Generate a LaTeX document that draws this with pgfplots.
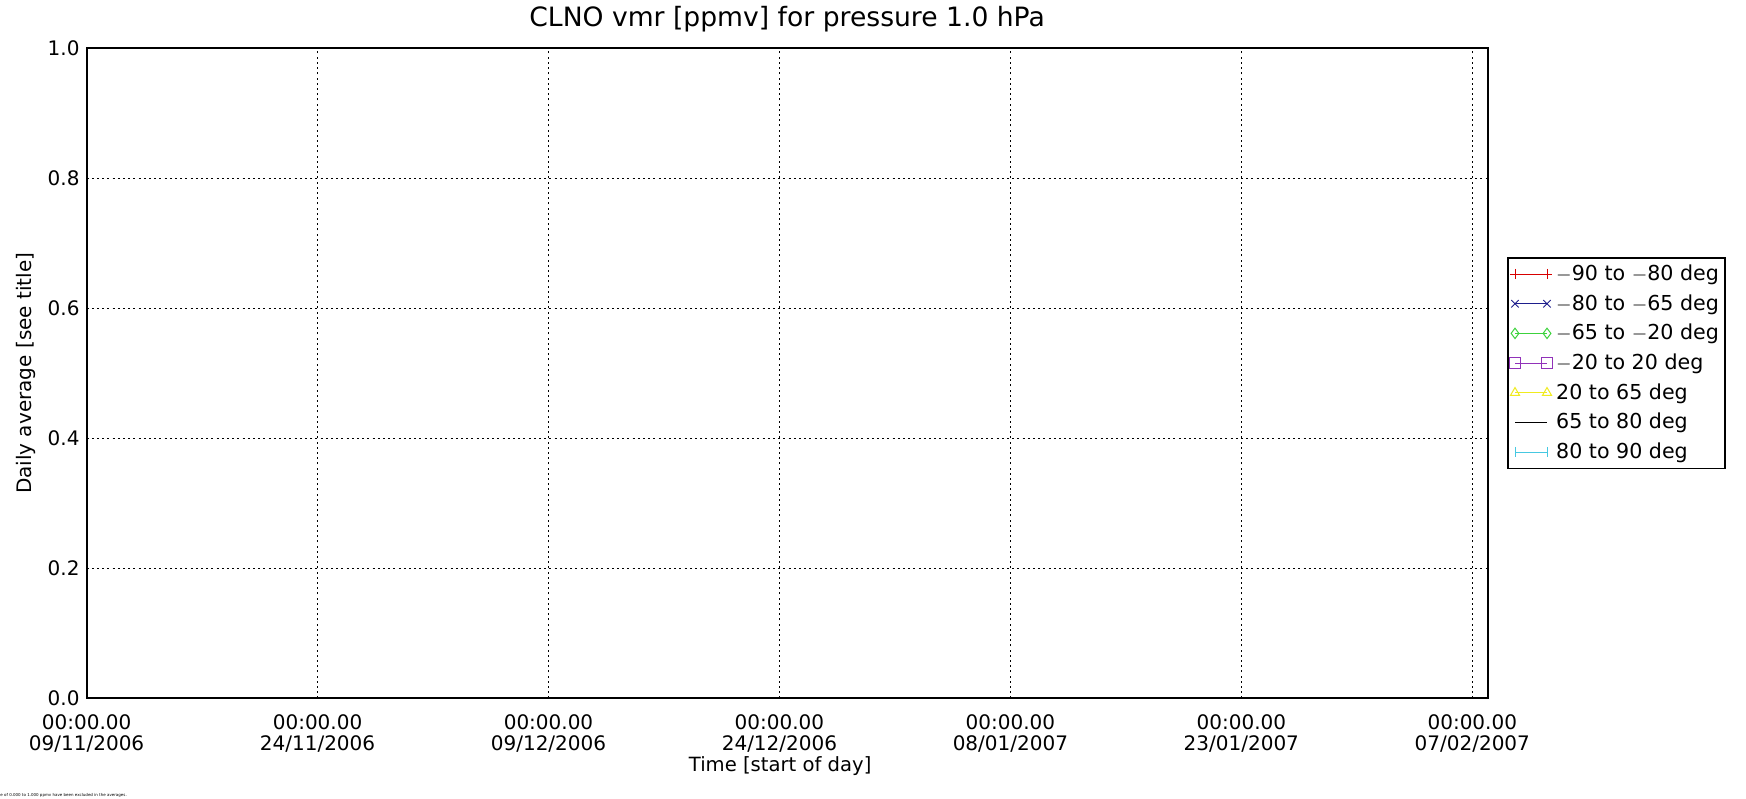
\documentclass[border=0pt]{standalone}
\usepackage{fontspec}
\setmainfont{DejaVu Sans}
\usepackage{pgfplots}
\pgfplotsset{compat=1.18}
\usetikzlibrary{calc}
\definecolor{cred}{RGB}{215,0,0}
\definecolor{cblue}{RGB}{30,30,140}
\definecolor{cgreen}{RGB}{60,210,60}
\definecolor{cpurple}{RGB}{145,50,185}
\definecolor{cyellow}{RGB}{240,235,30}
\definecolor{ccyan}{RGB}{70,200,225}
\begin{document}
\begin{tikzpicture}
\begin{axis}[
  scale only axis, width=700.5pt, height=325pt,
  xmin=0, xmax=91, ymin=0, ymax=1,
  xtick={0,15,30,45,60,75,90},
  xticklabels={{00:00.00\\09/11/2006},{00:00.00\\24/11/2006},{00:00.00\\09/12/2006},{00:00.00\\24/12/2006},{00:00.00\\08/01/2007},{00:00.00\\23/01/2007},{00:00.00\\07/02/2007}},
  xticklabel style={align=center, font=\fontsize{10}{10.8}\selectfont, yshift=-4.5pt},
  ytick={0,0.2,0.4,0.6,0.8,1.0},
  yticklabel style={font=\fontsize{10}{10}\selectfont, /pgf/number format/fixed, /pgf/number format/fixed zerofill, /pgf/number format/precision=1},
  /pgf/number format/assume math mode=true,
  grid=major,
  major grid style={black, line width=0.6pt, dash pattern=on 1pt off 1.6pt},
  major tick length=0pt,
  axis line style={line width=1pt},
  title={CLNO vmr [ppmv] for pressure 1.0 hPa},
  title style={at={(axis description cs:0.5,1.0266)}, anchor=center, font=\fontsize{13.3}{14}\selectfont},
  xlabel={Time [start of day]},
  xlabel style={at={(axis description cs:0.495,-0.1043)}, anchor=center, font=\fontsize{9.8}{10}\selectfont},
  ylabel={Daily average [see title]},
  ylabel style={at={(axis description cs:-0.04325,0.5)}, anchor=center, font=\fontsize{10}{10}\selectfont},
  legend style={at={(1.01378,0.679)}, anchor=north west, draw=black, line width=0.8pt,
    font=\fontsize{10.3}{11}\selectfont, inner xsep=1pt, inner ysep=1.5pt, row sep=1.5pt,
    /tikz/every even column/.append style={column sep=0pt}},
  legend cell align=left,
  legend image code/.code={\draw[line width=0.5pt,mark size=2.6pt,#1] plot coordinates {(0pt,0pt) (16pt,0pt)};},
]
\addlegendimage{cred, mark=+}
\addlegendentry{$-$90 to $-$80 deg}
\addlegendimage{cblue, mark=x}
\addlegendentry{$-$80 to $-$65 deg}
\addlegendimage{cgreen, mark=diamond}
\addlegendentry{$-$65 to $-$20 deg\hspace{6pt}}
\addlegendimage{cpurple, mark=square}
\addlegendentry{$-$20 to 20 deg}
\addlegendimage{cyellow, mark=triangle}
\addlegendentry{20 to 65 deg}
\addlegendimage{black}
\addlegendentry{65 to 80 deg}
\addlegendimage{ccyan, mark=|}
\addlegendentry{80 to 90 deg}
\coordinate (bl) at (rel axis cs:0,0);
\coordinate (tr) at (rel axis cs:1,1);
\end{axis}
\pgfresetboundingbox
\path[use as bounding box] ($(bl)+(-43.3pt,-49.85pt)$) rectangle ($(tr)+(129.15pt,24.15pt)$);
\node[anchor=south west, inner sep=0pt, font=\fontsize{2}{2}\selectfont] at ($(bl)+(-43.3pt,-49.5pt)$) {e of 0.000 to 1.000 ppmv have been excluded in the averages.};
\end{tikzpicture}
\end{document}
